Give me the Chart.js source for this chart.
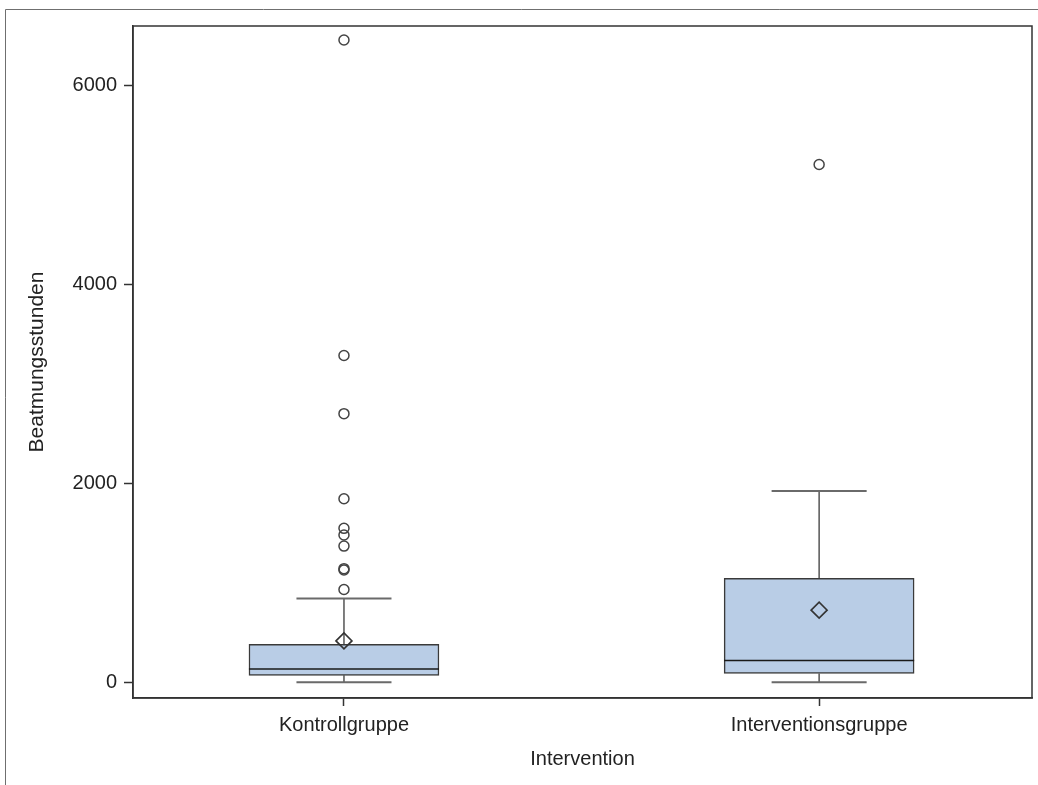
<!DOCTYPE html>
<html>
<head>
<meta charset="utf-8">
<title>Beatmungsstunden nach Intervention</title>
<script src="https://cdn.jsdelivr.net/npm/chart.js@4/dist/chart.umd.min.js"></script>
<style>
    html, body { margin: 0; padding: 0; background: #ffffff; }
    #wrap { position: relative; width: 1038px; height: 785px; }
</style>
</head>
<body>
<div id="wrap"><canvas id="boxChart"></canvas></div>
<script>
// Box plot values
const categories = ['Kontrollgruppe', 'Interventionsgruppe'];
const positions = [0, 1];
const whiskerLow = [0, 0];
const q1 = [70, 88];
const median = [134, 218];
const q3 = [382, 1044];
const whiskerHigh = [842, 1922];
const means = [416, 725];
const outliersKontroll = [933, 1128, 1142, 1369, 1480, 1547, 1845, 2700, 3284, 6455];
const outliersIntervention = [5204];
const yTicks = [0, 2000, 4000, 6000];

const textColor = '#222222';
const lineColor = '#333333';
const font = { family: '"Liberation Sans", Arial, sans-serif', size: 20 };

// whiskers and median lines, drawn with the chart's scales
const boxLines = {
    id: 'boxLines',
    beforeDatasetsDraw(chart) {
        const { ctx, scales: { x, y } } = chart;
        ctx.save();
        positions.forEach((p, i) => {
            const cx = x.getPixelForValue(p);
            ctx.strokeStyle = '#555555';
            ctx.lineWidth = 1.5;
            ctx.beginPath();
            ctx.moveTo(cx, y.getPixelForValue(q3[i]));
            ctx.lineTo(cx, y.getPixelForValue(whiskerHigh[i]));
            ctx.moveTo(cx, y.getPixelForValue(q1[i]));
            ctx.lineTo(cx, y.getPixelForValue(whiskerLow[i]));
            ctx.stroke();
            ctx.strokeStyle = '#6a6a6a';
            ctx.lineWidth = 2;
            ctx.beginPath();
            [whiskerHigh[i], whiskerLow[i]].forEach(v => {
                const py = y.getPixelForValue(v);
                ctx.moveTo(x.getPixelForValue(p - 0.1), py);
                ctx.lineTo(x.getPixelForValue(p + 0.1), py);
            });
            ctx.stroke();
        });
        ctx.restore();
    },
    afterDatasetDraw(chart, args) {
        if (args.meta.type !== 'bar') return;
        const { ctx, scales: { x, y } } = chart;
        ctx.save();
        ctx.strokeStyle = '#1a1a1a';
        ctx.lineWidth = 1.5;
        positions.forEach((p, i) => {
            const py = y.getPixelForValue(median[i]);
            ctx.beginPath();
            ctx.moveTo(x.getPixelForValue(p - 0.2), py);
            ctx.lineTo(x.getPixelForValue(p + 0.2), py);
            ctx.stroke();
        });
        ctx.restore();
    }
};

// plot frame and the outer border of the picture
const frame = {
    id: 'frame',
    afterDraw(chart) {
        const { ctx, chartArea: a } = chart;
        ctx.save();
        ctx.strokeStyle = lineColor;
        ctx.lineWidth = 1.5;
        ctx.strokeRect(a.left, a.top, a.right - a.left, a.bottom - a.top);
        ctx.strokeStyle = '#6f6f6f';
        ctx.lineWidth = 1;
        ctx.beginPath();
        ctx.moveTo(5.5, chart.height);
        ctx.lineTo(5.5, 9.5);
        ctx.lineTo(chart.width, 9.5);
        ctx.stroke();
        ctx.restore();
    }
};

const pointStyle = {
    pointStyle: 'circle',
    pointRadius: 5,
    pointBorderWidth: 1.5,
    pointBorderColor: '#444444',
    pointBackgroundColor: 'rgba(0,0,0,0)'
};

new Chart(document.getElementById('boxChart'), {
    data: {
        datasets: [{
            type: 'scatter',
            label: 'Mittelwert',
            data: positions.map((p, i) => ({ x: p, y: means[i] })),
            pointStyle: 'rectRot',
            pointRadius: 8,
            pointBorderWidth: 1.6,
            pointBorderColor: '#333333',
            pointBackgroundColor: 'rgba(0,0,0,0)'
        }, {
            type: 'scatter',
            label: 'Ausreißer Kontrollgruppe',
            data: outliersKontroll.map(v => ({ x: positions[0], y: v })),
            ...pointStyle
        }, {
            type: 'scatter',
            label: 'Ausreißer Interventionsgruppe',
            data: outliersIntervention.map(v => ({ x: positions[1], y: v })),
            ...pointStyle
        }, {
            type: 'bar',
            label: 'Quartile',
            data: positions.map((p, i) => ({ x: p, y: [q1[i], q3[i]] })),
            backgroundColor: '#b9cde6',
            borderColor: '#3a3a3a',
            borderWidth: 1.5,
            borderSkipped: false,
            barThickness: 190
        }]
    },
    options: {
        responsive: true,
        maintainAspectRatio: false,
        animation: false,
        layout: {
            autoPadding: false,
            padding: { left: 0, right: 6, top: 26, bottom: 0 }
        },
        plugins: {
            legend: { display: false },
            tooltip: { enabled: false }
        },
        scales: {
            x: {
                type: 'linear',
                min: -0.444,
                max: 1.448,
                offset: false,
                afterBuildTicks: scale => { scale.ticks = positions.map(v => ({ value: v })); },
                afterFit: scale => {
                    scale.height = 87;
                    scale.paddingLeft = 0;
                    scale.paddingRight = 0;
                },
                grid: {
                    offset: false,
                    drawOnChartArea: false,
                    drawTicks: true,
                    tickLength: 8,
                    tickColor: lineColor,
                    tickWidth: 1.5
                },
                border: { display: true, color: lineColor, width: 1.5 },
                ticks: {
                    color: textColor,
                    font: font,
                    padding: 7,
                    maxRotation: 0,
                    callback: value => categories[positions.indexOf(value)]
                },
                title: {
                    display: true,
                    text: 'Intervention',
                    color: textColor,
                    font: font,
                    padding: { top: 0, bottom: 14 }
                }
            },
            y: {
                type: 'linear',
                min: -158,
                max: 6596,
                afterBuildTicks: scale => { scale.ticks = yTicks.map(v => ({ value: v })); },
                afterFit: scale => { scale.width = 133; },
                grid: {
                    drawOnChartArea: false,
                    drawTicks: true,
                    tickLength: 9,
                    tickColor: lineColor,
                    tickWidth: 1.5
                },
                border: { display: true, color: lineColor, width: 1.5 },
                ticks: {
                    color: textColor,
                    font: font,
                    padding: 7,
                    callback: value => String(value)
                },
                title: {
                    display: true,
                    text: 'Beatmungsstunden',
                    color: textColor,
                    font: { family: font.family, size: 21 },
                    padding: { top: 25, bottom: 0 }
                }
            }
        }
    },
    plugins: [boxLines, frame]
});
</script>
</body>
</html>
